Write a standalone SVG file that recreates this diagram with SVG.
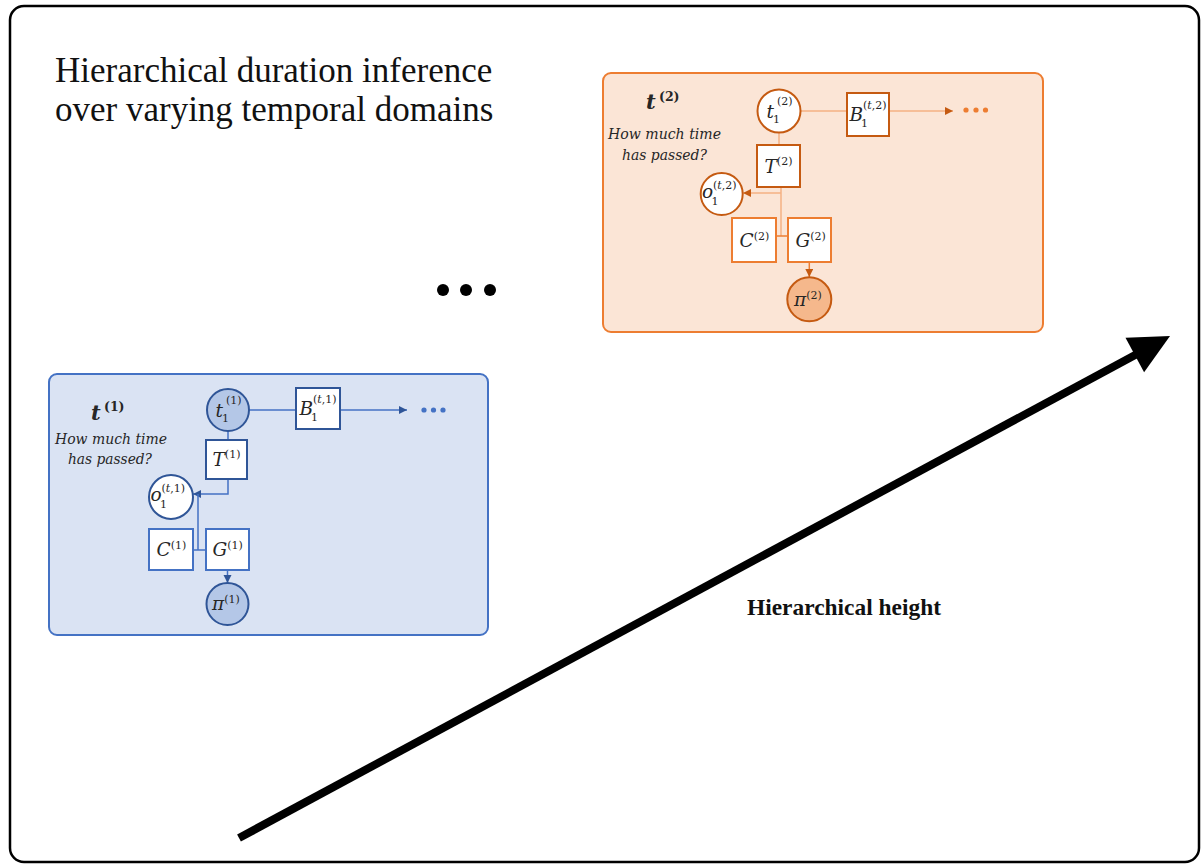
<svg xmlns="http://www.w3.org/2000/svg" width="1201" height="865" viewBox="0 0 1201 865">
<style>
.frame{fill:#fff;stroke:#000;stroke-width:2.5}
.title{font-family:"Liberation Serif",serif;font-size:35px;fill:#111}
.axis{font-family:"Liberation Serif",serif;font-size:23px;font-weight:bold;fill:#111}
.bpanel{fill:#dae3f3;stroke:#4472c4;stroke-width:2}
.opanel{fill:#fbe5d6;stroke:#ed7d31;stroke-width:2}
.bn{fill:#fff;stroke:#2f5597;stroke-width:2}
.bn2{fill:#fff;stroke:#4472c4;stroke-width:2}
.bnf{fill:#b4c7e7;stroke:#2f5597;stroke-width:2}
.on{fill:#fff;stroke:#c55a11;stroke-width:2}
.on2{fill:#fff;stroke:#ed7d31;stroke-width:2}
.onf{fill:#f5b88c;stroke:#c55a11;stroke-width:2}
.var{font-family:"DejaVu Serif","Liberation Serif",serif;font-style:italic;font-size:18.5px;fill:#262626}
.scr{font-family:"DejaVu Serif","Liberation Serif",serif;font-style:normal;font-size:11px;fill:#262626}
.it{font-style:italic}
.hdr{font-family:"DejaVu Serif","Liberation Serif",serif;font-style:italic;font-weight:bold;font-size:21px;fill:#262626}
.hdrs{font-family:"DejaVu Serif","Liberation Serif",serif;font-weight:bold;font-size:12.5px;fill:#262626}
.q{font-family:"DejaVu Serif","Liberation Serif",serif;font-style:italic;font-size:14px;fill:#262626}
.bl{fill:none;stroke:#4472c4;stroke-width:1.5}
.ol{fill:none;stroke:#f4b183;stroke-width:1.5}
.ol2{fill:none;stroke:#ed7d31;stroke-width:1.5}
.bdot{fill:#4472c4}
.odot{fill:#ed7d31}
</style>
<defs>
<marker id="ab" markerUnits="userSpaceOnUse" markerWidth="9" markerHeight="9" refX="8" refY="4" orient="auto"><path d="M0,0 L8,4 L0,8 z" fill="#2f5597"/></marker>
<marker id="ao" markerUnits="userSpaceOnUse" markerWidth="9" markerHeight="9" refX="8" refY="4" orient="auto"><path d="M0,0 L8,4 L0,8 z" fill="#c55a11"/></marker>
</defs>

<rect class="frame" x="10" y="6" width="1189" height="856" rx="14"/>

<g id="title">
<text class="title" x="55" y="82">Hierarchical duration inference</text>
<text class="title" x="55" y="121">over varying temporal domains</text>
</g>

<g id="ellipsis">
<circle cx="443" cy="290" r="6"/>
<circle cx="466" cy="290" r="6"/>
<circle cx="490" cy="290" r="6"/>
</g>

<g id="axis-label">
<text class="axis" x="747" y="615" textLength="194" lengthAdjust="spacingAndGlyphs">Hierarchical height</text>
</g>

<g id="panel-1">
<rect class="bpanel" x="49" y="374" width="439" height="261" rx="8"/>
<text class="hdr" x="91" y="420">t</text><text class="hdrs" x="104" y="411">(1)</text>
<text class="q" x="55" y="444" textLength="112" lengthAdjust="spacingAndGlyphs">How much time</text>
<text class="q" x="68" y="464" textLength="84" lengthAdjust="spacingAndGlyphs">has passed?</text>
</g>

<g id="panel-2">
<rect class="opanel" x="603" y="73" width="440" height="259" rx="8"/>
<text class="hdr" x="646" y="109">t</text><text class="hdrs" x="659" y="101">(2)</text>
<text class="q" x="608" y="139" textLength="113" lengthAdjust="spacingAndGlyphs">How much time</text>
<text class="q" x="622" y="160" textLength="85" lengthAdjust="spacingAndGlyphs">has passed?</text>
</g>

<g id="connectors">
<line class="bl" x1="249" y1="410" x2="296" y2="410"/>
<line class="bl" x1="340" y1="410" x2="407" y2="410" marker-end="url(#ab)"/>
<circle class="bdot" cx="424" cy="410" r="2.6"/>
<circle class="bdot" cx="433.5" cy="410" r="2.6"/>
<circle class="bdot" cx="443" cy="410" r="2.6"/>
<line class="bl" x1="228" y1="431" x2="228" y2="440"/>
<path class="bl" d="M228,479 V494 H193" marker-end="url(#ab)"/>
<path class="bl" d="M193,550 H206 M198,550 V494"/>
<path class="bl" d="M227.5,570 V583" marker-end="url(#ab)"/>

<line class="ol" x1="800.5" y1="111" x2="847" y2="111"/>
<line class="ol" x1="889" y1="111" x2="953" y2="111" marker-end="url(#ao)"/>
<circle class="odot" cx="966" cy="110" r="2.6"/>
<circle class="odot" cx="976" cy="110" r="2.6"/>
<circle class="odot" cx="985.5" cy="110" r="2.6"/>
<line class="ol" x1="779" y1="132.5" x2="779" y2="145"/>
<path class="ol" d="M781,187 V236"/>
<path class="ol" d="M781,193 H743" marker-end="url(#ao)"/>
<path class="ol2" d="M776,236 H788"/>
<path class="ol2" d="M809.3,262 V277" marker-end="url(#ao)"/>

<line x1="239" y1="838" x2="1137" y2="354" stroke="#000" stroke-width="8"/>
<polygon points="1170,336 1125.5,337.8 1144.1,372.2" fill="#000"/>
</g>

<g id="t1-1">
<circle class="bnf" cx="228" cy="410" r="21"/>
<text class="var" x="215.5" y="417">t</text>
<text class="scr" x="222" y="422">1</text>
<text class="scr" x="226" y="404">(1)</text>
</g>
<g id="B1-1">
<rect class="bn" x="296" y="388" width="44" height="41"/>
<text class="var" x="299.5" y="415">B</text>
<text class="scr" x="311" y="421">1</text>
<text class="scr" x="313" y="403">(<tspan class="it">t</tspan>,1)</text>
</g>
<g id="T-1">
<rect class="bn" x="206" y="440" width="41" height="39"/>
<text class="var" x="212.5" y="466">T<tspan class="scr" dy="-8">(1)</tspan></text>
</g>
<g id="o1-1">
<circle class="bn" cx="171" cy="497" r="22"/>
<text class="var" x="150.5" y="501">o</text>
<text class="scr" x="160" y="508">1</text>
<text class="scr" x="161.5" y="492">(<tspan class="it">t</tspan>,1)</text>
</g>
<g id="C-1">
<rect class="bn2" x="149" y="529" width="44" height="41"/>
<text class="var" x="156.5" y="556">C<tspan class="scr" dy="-7">(1)</tspan></text>
</g>
<g id="G-1">
<rect class="bn2" x="206" y="529" width="43" height="41"/>
<text class="var" x="212.5" y="556">G<tspan class="scr" dy="-7">(1)</tspan></text>
</g>
<g id="pi-1">
<circle class="bnf" cx="227.5" cy="604" r="21"/>
<text class="var" x="212" y="610">π<tspan class="scr" dy="-7">(1)</tspan></text>
</g>

<g id="t1-2">
<circle class="on" cx="779" cy="111" r="21.5"/>
<text class="var" x="766.5" y="118">t</text>
<text class="scr" x="773" y="123">1</text>
<text class="scr" x="777" y="105">(2)</text>
</g>
<g id="B1-2">
<rect class="on" x="847" y="93" width="42" height="43"/>
<text class="var" x="849.5" y="121">B</text>
<text class="scr" x="861" y="127">1</text>
<text class="scr" x="863" y="109">(<tspan class="it">t</tspan>,2)</text>
</g>
<g id="T-2">
<rect class="on" x="757" y="145" width="43" height="42"/>
<text class="var" x="764.5" y="173">T<tspan class="scr" dy="-8">(2)</tspan></text>
</g>
<g id="o1-2">
<circle class="on" cx="721.7" cy="194" r="21"/>
<text class="var" x="702" y="198">o</text>
<text class="scr" x="711.5" y="205">1</text>
<text class="scr" x="713" y="189">(<tspan class="it">t</tspan>,2)</text>
</g>
<g id="C-2">
<rect class="on2" x="732" y="218" width="44" height="44"/>
<text class="var" x="739.5" y="247">C<tspan class="scr" dy="-7">(2)</tspan></text>
</g>
<g id="G-2">
<rect class="on2" x="788" y="218" width="43" height="44"/>
<text class="var" x="795.5" y="247">G<tspan class="scr" dy="-7">(2)</tspan></text>
</g>
<g id="pi-2">
<circle class="onf" cx="809.3" cy="299.3" r="22"/>
<text class="var" x="794" y="306">π<tspan class="scr" dy="-7">(2)</tspan></text>
</g>
</svg>
